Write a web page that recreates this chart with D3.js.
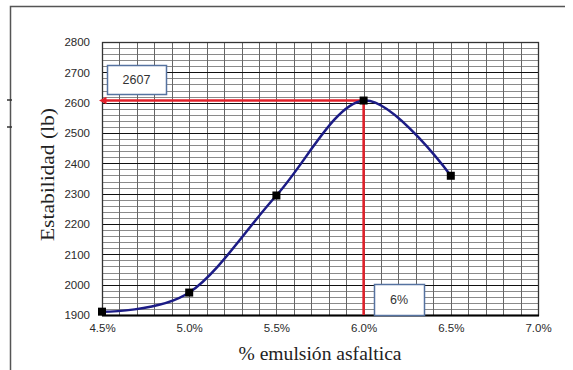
<!DOCTYPE html>
<html>
<head>
<meta charset="utf-8">
<script src="https://cdn.jsdelivr.net/npm/d3@7"></script>
<style>
  html, body { margin: 0; padding: 0; background: #fff; }
  svg { display: block; }
</style>
</head>
<body>
<svg id="chart" width="573" height="370"></svg>
<script>
// Stability vs. asphalt emulsion content
const emulsion = [4.5, 5.0, 5.5, 6.0, 6.5];          // % emulsión
const stability = [1911, 1974, 2294, 2607, 2359];    // lb
const xTicks = [4.5, 5.0, 5.5, 6.0, 6.5, 7.0];
const yTicks = [1900, 2000, 2100, 2200, 2300, 2400, 2500, 2600, 2700, 2800];
const optimumX = 6.0;
const optimumY = 2607;
const optimumLabel = "6%";
const stabilityLabel = "2607";

const svg = d3.select("#chart");
const m = { left: 102, right: 538, top: 42, bottom: 315 };

const x = d3.scaleLinear().domain([4.5, 7.0]).range([m.left, m.right]);
const y = d3.scaleLinear().domain([1900, 2800]).range([m.bottom, m.top]);

// outer frame (top and left edges)
svg.append("path")
  .attr("d", `M10.5,370 V6.5 H565`)
  .attr("fill", "none").attr("stroke", "#555").attr("stroke-width", 1.5);
svg.selectAll("line.nick").data([100, 127]).enter().append("line")
  .attr("x1", 7).attr("x2", 12).attr("y1", d => d).attr("y2", d => d)
  .attr("stroke", "#333").attr("stroke-width", 1.5);

// minor grid
const g = svg.append("g");
const minorX = d3.range(45, 71).map(v => v / 10);
const minorY = d3.range(1900, 2801, 20);
g.selectAll("line.hm").data(minorY).enter().append("line")
  .attr("x1", m.left).attr("x2", m.right)
  .attr("y1", d => Math.round(y(d)) + 0.5).attr("y2", d => Math.round(y(d)) + 0.5)
  .attr("stroke", "#8a8a8a").attr("stroke-width", 1);
g.selectAll("line.vm").data(minorX).enter().append("line")
  .attr("y1", m.top).attr("y2", m.bottom)
  .attr("x1", d => Math.round(x(d)) + 0.5).attr("x2", d => Math.round(x(d)) + 0.5)
  .attr("stroke", "#666").attr("stroke-width", 1);
// major horizontal grid
g.selectAll("line.hM").data(yTicks).enter().append("line")
  .attr("x1", m.left).attr("x2", m.right)
  .attr("y1", d => Math.round(y(d)) + 0.5).attr("y2", d => Math.round(y(d)) + 0.5)
  .attr("stroke", "#111").attr("stroke-width", 1.2);

// plot border
svg.append("rect")
  .attr("x", m.left + 0.5).attr("y", m.top + 0.5)
  .attr("width", m.right - m.left).attr("height", m.bottom - m.top)
  .attr("fill", "none").attr("stroke", "#333").attr("stroke-width", 1.3);
svg.append("line").attr("x1", m.left).attr("x2", m.right + 1)
  .attr("y1", m.bottom + 0.5).attr("y2", m.bottom + 0.5)
  .attr("stroke", "#000").attr("stroke-width", 2);

// axes
const yAxis = d3.axisLeft(y).tickValues(yTicks).tickSize(0).tickPadding(12)
  .tickFormat(d3.format("d"));
const xAxis = d3.axisBottom(x).tickValues(xTicks).tickSize(0).tickPadding(9)
  .tickFormat(d => d.toFixed(1) + "%");
const ya = svg.append("g").attr("transform", `translate(${m.left},0)`).call(yAxis);
const xa = svg.append("g").attr("transform", `translate(0,${m.bottom})`).call(xAxis);
[ya, xa].forEach(a => {
  a.select(".domain").remove();
  a.selectAll("text").attr("font-family", "Arial, 'Liberation Sans', sans-serif")
    .attr("font-size", 11.5).attr("fill", "#2a2a2a");
});

// axis titles
svg.append("text")
  .attr("transform", `translate(54,${(107 + 242) / 2}) rotate(-90)`)
  .attr("text-anchor", "middle")
  .attr("font-family", "'Liberation Serif', 'Times New Roman', serif")
  .attr("font-size", 18).attr("fill", "#222")
  .attr("textLength", 133).attr("lengthAdjust", "spacingAndGlyphs")
  .text("Estabilidad (lb)");
svg.append("text")
  .attr("x", 320).attr("y", 360)
  .attr("text-anchor", "middle")
  .attr("font-family", "'Liberation Serif', 'Times New Roman', serif")
  .attr("font-size", 18).attr("fill", "#222")
  .attr("textLength", 163).attr("lengthAdjust", "spacingAndGlyphs")
  .text("% emulsión asfaltica");

// red reference lines
const red = "#e3202a";
svg.append("defs").append("marker")
  .attr("id", "arrow").attr("viewBox", "0 0 10 10")
  .attr("refX", 2).attr("refY", 5)
  .attr("markerWidth", 3).attr("markerHeight", 3)
  .attr("orient", "auto-start-reverse")
  .append("path").attr("d", "M0,0 L10,5 L0,10 Z").attr("fill", red);
svg.append("line")
  .attr("x1", x(optimumX)).attr("x2", m.left + 3)
  .attr("y1", y(optimumY)).attr("y2", y(optimumY))
  .attr("stroke", red).attr("stroke-width", 2.5)
  .attr("marker-end", "url(#arrow)");
svg.append("line")
  .attr("x1", x(optimumX)).attr("x2", x(optimumX))
  .attr("y1", y(optimumY)).attr("y2", m.bottom)
  .attr("stroke", red).attr("stroke-width", 2.5);

// smoothed curve
const pts = emulsion.map((e, i) => [x(e), y(stability[i])]);
svg.append("path")
  .attr("d", d3.line().curve(d3.curveCardinal.tension(0))(pts))
  .attr("fill", "none").attr("stroke", "#1c1c86").attr("stroke-width", 2.5);

// markers
svg.selectAll("rect.pt").data(pts).enter().append("rect")
  .attr("x", d => d[0] - 4).attr("y", d => d[1] - 4)
  .attr("width", 8).attr("height", 8).attr("fill", "#000");

// value boxes
function box(x0, y0, w, h, label) {
  svg.append("rect").attr("x", x0 + 0.5).attr("y", y0 + 0.5)
    .attr("width", w).attr("height", h)
    .attr("fill", "#fff").attr("stroke", "#5572a0").attr("stroke-width", 1.5);
  svg.append("text").attr("x", x0 + w / 2).attr("y", y0 + h / 2 + 4.5)
    .attr("text-anchor", "middle")
    .attr("font-family", "Arial, 'Liberation Sans', sans-serif")
    .attr("font-size", 12.5).attr("fill", "#333").text(label);
}
box(107, 65, 59, 29, stabilityLabel);
box(374, 284, 50, 31, optimumLabel);
</script>
</body>
</html>
